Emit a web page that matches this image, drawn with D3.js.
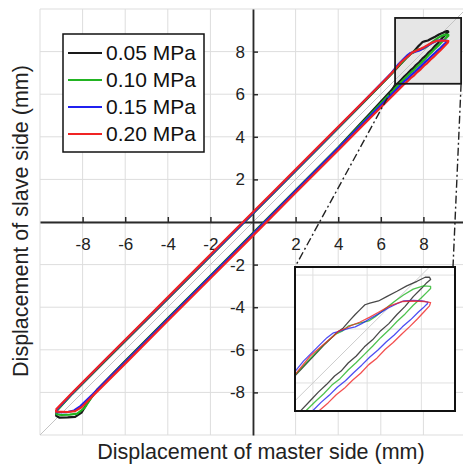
<!DOCTYPE html>
<html>
<head>
<meta charset="utf-8">
<script src="https://cdnjs.cloudflare.com/ajax/libs/d3/7.8.5/d3.min.js"></script>
<style>
  body { margin: 0; background: #fff; }
  svg { display: block; font-family: "Liberation Sans", Arial, Helvetica, sans-serif; }
  .grid line { stroke: #dddddd; stroke-width: 1; }
  .axis .domain { stroke: #2a2a2a; stroke-width: 1.8; }
  .axis .tick line { stroke: #2a2a2a; stroke-width: 1.5; }
  .axis .tick text { fill: #222; font-size: 17px; }
  .axis-title { fill: #222; font-size: 21.5px; }
  .legend-text { fill: #111; font-size: 21px; }
</style>
</head>
<body>
<div id="chart"></div>
<script>
// series names and colours
const pressures = ["0.05 MPa", "0.10 MPa", "0.15 MPa", "0.20 MPa"];
const colours = ["#1a1a1a", "#22b422", "#2020f0", "#f02424"];

// tick values of both axes, grid every 2 mm
const tickValues = [-8, -6, -4, -2, 2, 4, 6, 8];
const gridValues = [-10, -8, -6, -4, -2, 0, 2, 4, 6, 8, 10];
const insetGrid = [7, 8, 9];

// hysteresis loops [master, slave] in mm
const loop005 = [
  [-9.22, -8.85], [-9.24, -9.1], [-9.1, -9.18], [-8.7, -9.17], [-8.35, -9.15], [-8.05, -8.95],
  [-7.75, -8.45], [-7.3, -7.85], [-6, -6.53], [-4, -4.52], [-2, -2.52], [0, -0.52], [2, 1.49],
  [4, 3.5], [5.5, 5.1], [6.3, 5.98], [6.79, 6.5], [6.95, 6.67], [7.1, 6.83], [7.25, 6.97],
  [7.4, 7.13], [7.52, 7.22], [7.65, 7.37], [7.8, 7.5], [7.95, 7.67], [8.1, 7.8], [8.25, 7.97],
  [8.4, 8.1], [8.55, 8.27], [8.7, 8.42], [8.85, 8.6], [9.0, 8.75], [9.1, 8.86], [9.17, 8.92],
  [9.15, 8.96], [9.07, 8.96], [8.92, 8.885], [8.73, 8.8], [8.55, 8.7], [8.36, 8.6], [8.21, 8.52],
  [8.05, 8.48], [7.96, 8.45], [7.87, 8.36], [7.78, 8.27], [7.68, 8.16], [7.56, 8.02], [7.44, 7.93],
  [7.2, 7.7], [6.9, 7.38], [6.5, 6.95], [5, 5.42], [3, 3.4], [1, 1.4], [-1, -0.6], [-3, -2.6],
  [-5, -4.6], [-7, -6.58], [-8.5, -8.08], [-9.22, -8.85]
];
const loop010 = [
  [-9.2, -8.85], [-9.22, -9.02], [-9.0, -9.06], [-8.6, -9.04], [-8.25, -9.0], [-7.9, -8.72],
  [-7.5, -8.1], [-6, -6.55], [-4, -4.54], [-2, -2.54], [0, -0.54], [2, 1.47], [4, 3.48],
  [5.5, 5.04], [6.4, 5.98], [6.886, 6.5], [7.05, 6.66], [7.2, 6.8], [7.35, 6.96], [7.5, 7.08],
  [7.65, 7.24], [7.8, 7.38], [7.95, 7.53], [8.1, 7.68], [8.25, 7.84], [8.4, 7.98], [8.55, 8.14],
  [8.7, 8.28], [8.85, 8.44], [9.0, 8.58], [9.1, 8.68], [9.17, 8.75], [9.17, 8.79], [9.04, 8.8],
  [8.85, 8.74], [8.67, 8.63], [8.49, 8.5], [8.3, 8.35], [8.15, 8.23], [8.03, 8.15], [7.9, 8.12],
  [7.78, 8.09], [7.66, 8.06], [7.54, 7.96], [7.41, 7.9], [7.2, 7.71], [6.9, 7.4], [6.5, 6.96],
  [5, 5.43], [3, 3.42], [1, 1.42], [-1, -0.58], [-3, -2.58], [-5, -4.57], [-7, -6.56],
  [-8.5, -8.07], [-9.2, -8.85]
];
const loop015 = [
  [-9.22, -8.82], [-9.2, -8.93], [-8.75, -8.93], [-8.4, -8.85], [-8.1, -8.64], [-7.5, -8.07],
  [-6, -6.57], [-4, -4.57], [-2, -2.56], [0, -0.56], [2, 1.45], [4, 3.46], [5.5, 4.97],
  [6.5, 5.98], [7.01, 6.5], [7.15, 6.64], [7.3, 6.77], [7.45, 6.92], [7.6, 7.04], [7.75, 7.19],
  [7.9, 7.33], [8.05, 7.48], [8.2, 7.61], [8.35, 7.76], [8.5, 7.89], [8.65, 8.04], [8.8, 8.17],
  [8.95, 8.32], [9.05, 8.41], [9.11, 8.47], [9.12, 8.5], [9.01, 8.52], [8.85, 8.53], [8.67, 8.52],
  [8.55, 8.47], [8.39, 8.39], [8.21, 8.28], [8.05, 8.19], [7.9, 8.1], [7.78, 8.04], [7.66, 8.01],
  [7.5, 7.96], [7.38, 7.93], [7.26, 7.84], [7.07, 7.65], [6.83, 7.41], [6.5, 7.0], [5, 5.46],
  [3, 3.44], [1, 1.43], [-1, -0.57], [-3, -2.56], [-5, -4.55], [-7, -6.54], [-8.5, -8.05],
  [-9.22, -8.82]
];
const loop020 = [
  [-9.25, -8.8], [-9.24, -8.9], [-8.7, -8.92], [-8.35, -8.88], [-8.05, -8.7], [-7.5, -8.14],
  [-6, -6.65], [-4, -4.64], [-2, -2.64], [0, -0.64], [2, 1.37], [4, 3.37], [5.5, 4.88],
  [6.6, 5.97], [7.13, 6.5], [7.28, 6.63], [7.43, 6.78], [7.58, 6.9], [7.73, 7.05], [7.88, 7.18],
  [8.03, 7.34], [8.18, 7.46], [8.33, 7.62], [8.48, 7.75], [8.63, 7.9], [8.78, 8.04], [8.93, 8.19],
  [9.05, 8.32], [9.15, 8.43], [9.17, 8.49], [9.07, 8.51], [8.85, 8.52], [8.64, 8.51], [8.42, 8.43],
  [8.21, 8.31], [8.05, 8.22], [7.87, 8.13], [7.72, 8.07], [7.6, 8.01], [7.47, 7.96], [7.38, 7.87],
  [7.19, 7.71], [6.95, 7.5], [6.7, 7.19], [6.3, 6.77], [5, 5.47], [3, 3.47], [1, 1.47],
  [-1, -0.53], [-3, -2.53], [-5, -4.53], [-7, -6.53], [-8.5, -8.03], [-9.25, -8.8]
];
const loops = [loop005, loop010, loop015, loop020];

// region magnified in the inset (data units)
const zoomX = [6.67, 9.77];
const zoomY = [6.49, 9.58];
const insetX = [6.67, 9.62];
const insetY = [6.48, 9.15];

const config = {
  width: 463,
  height: 465,
  plot: { left: 40, right: 466, top: 9, bottom: 435 },
  inset: { left: 295, right: 455, top: 267, bottom: 411 },
  legend: { x: 63, y: 34, w: 141, h: 118, row: 27 }
};

const svg = d3.select("#chart").append("svg")
  .attr("width", config.width)
  .attr("height", config.height);

const x = d3.scaleLinear().domain([-10, 10]).range([config.plot.left, config.plot.right]);
const y = d3.scaleLinear().domain([-10, 10]).range([config.plot.bottom, config.plot.top]);

// grid
const grid = svg.append("g").attr("class", "grid");
grid.selectAll(".gx").data(gridValues).join("line")
  .attr("class", "gx")
  .attr("x1", d => x(d)).attr("x2", d => x(d))
  .attr("y1", y(-10)).attr("y2", y(10));
grid.selectAll(".gy").data(gridValues).join("line")
  .attr("class", "gy")
  .attr("y1", d => y(d)).attr("y2", d => y(d))
  .attr("x1", x(-10)).attr("x2", x(10));

// shaded zoom region
svg.append("rect")
  .attr("x", x(zoomX[0]))
  .attr("y", y(zoomY[1]))
  .attr("width", x(zoomX[1]) - x(zoomX[0]))
  .attr("height", y(zoomY[0]) - y(zoomY[1]))
  .attr("fill", "#e6e6e6");

// y = x reference
svg.append("line")
  .attr("x1", x(-10)).attr("y1", y(-10))
  .attr("x2", x(10)).attr("y2", y(10))
  .attr("stroke", "#c4c4c4").attr("stroke-width", 1);

// axes through the origin
const xAxis = d3.axisBottom(x).tickValues(tickValues)
  .tickSize(-5).tickSizeOuter(0).tickPadding(16).tickFormat(d => d);
const yAxis = d3.axisLeft(y).tickValues(tickValues)
  .tickSize(-5).tickSizeOuter(0).tickPadding(8).tickFormat(d => d);

svg.append("g").attr("class", "axis")
  .attr("transform", `translate(0,${y(0)})`)
  .call(xAxis)
  .attr("font-size", null).attr("font-family", null);
svg.append("g").attr("class", "axis")
  .attr("transform", `translate(${x(0)},0)`)
  .call(yAxis)
  .attr("font-size", null).attr("font-family", null);

// loops
const line = d3.line().x(d => x(d[0])).y(d => y(d[1]));
svg.append("g").selectAll("path").data(loops).join("path")
  .attr("d", line)
  .attr("fill", "none")
  .attr("stroke", (d, i) => colours[i])
  .attr("stroke-width", 2.2)
  .attr("stroke-linejoin", "round");

// border of zoom region
svg.append("rect")
  .attr("x", x(zoomX[0]))
  .attr("y", y(zoomY[1]))
  .attr("width", x(zoomX[1]) - x(zoomX[0]))
  .attr("height", y(zoomY[0]) - y(zoomY[1]))
  .attr("fill", "none")
  .attr("stroke", "#1a1a1a")
  .attr("stroke-width", 1.8);

// axis titles
svg.append("text")
  .attr("class", "axis-title")
  .attr("x", 261).attr("y", 459)
  .attr("text-anchor", "middle")
  .text("Displacement of master side (mm)");
svg.append("text")
  .attr("class", "axis-title")
  .attr("transform", "translate(28,221) rotate(-90)")
  .attr("text-anchor", "middle")
  .text("Displacement of slave side (mm)");

// legend
const lg = config.legend;
const legend = svg.append("g");
legend.append("rect")
  .attr("x", lg.x).attr("y", lg.y)
  .attr("width", lg.w).attr("height", lg.h)
  .attr("fill", "#fff").attr("stroke", "#111").attr("stroke-width", 1.5);
legend.selectAll("line").data(pressures).join("line")
  .attr("x1", lg.x + 5).attr("x2", lg.x + 39)
  .attr("y1", (d, i) => lg.y + 19 + i * lg.row)
  .attr("y2", (d, i) => lg.y + 19 + i * lg.row)
  .attr("stroke", (d, i) => colours[i])
  .attr("stroke-width", 2);
legend.selectAll("text").data(pressures).join("text")
  .attr("class", "legend-text")
  .attr("x", lg.x + 43)
  .attr("y", (d, i) => lg.y + 19 + i * lg.row)
  .attr("dy", "0.35em")
  .text(d => d);

// connector lines from zoom region to inset
const ins = config.inset;
const connectors = [
  [[x(zoomX[0]), y(zoomY[0])], [ins.left, ins.top]],
  [[x(zoomX[1]), y(zoomY[0])], [ins.right - 2, ins.top]]
];
svg.selectAll(".connector").data(connectors).join("line")
  .attr("class", "connector")
  .attr("x1", d => d[0][0]).attr("y1", d => d[0][1])
  .attr("x2", d => d[1][0]).attr("y2", d => d[1][1])
  .attr("stroke", "#222")
  .attr("stroke-width", 1.4)
  .attr("stroke-dasharray", "8,3,2,3");

// inset
const xi = d3.scaleLinear().domain(insetX).range([ins.left, ins.right]);
const yi = d3.scaleLinear().domain(insetY).range([ins.bottom, ins.top]);

svg.append("clipPath").attr("id", "inset-clip")
  .append("rect")
  .attr("x", ins.left).attr("y", ins.top)
  .attr("width", ins.right - ins.left).attr("height", ins.bottom - ins.top);

const inset = svg.append("g");
inset.append("rect")
  .attr("x", ins.left).attr("y", ins.top)
  .attr("width", ins.right - ins.left).attr("height", ins.bottom - ins.top)
  .attr("fill", "#fff");

const insetBody = inset.append("g").attr("clip-path", "url(#inset-clip)");
insetBody.selectAll(".ix").data(insetGrid).join("line")
  .attr("class", "ix")
  .attr("x1", d => xi(d)).attr("x2", d => xi(d))
  .attr("y1", ins.top).attr("y2", ins.bottom)
  .attr("stroke", "#e0e0e0");
insetBody.selectAll(".iy").data(insetGrid).join("line")
  .attr("class", "iy")
  .attr("y1", d => yi(d)).attr("y2", d => yi(d))
  .attr("x1", ins.left).attr("x2", ins.right)
  .attr("stroke", "#e0e0e0");
insetBody.append("line")
  .attr("x1", xi(6)).attr("y1", yi(6))
  .attr("x2", xi(10)).attr("y2", yi(10))
  .attr("stroke", "#cccccc");

const insetLine = d3.line().x(d => xi(d[0])).y(d => yi(d[1]));
insetBody.selectAll(".iloop").data(loops).join("path")
  .attr("class", "iloop")
  .attr("d", insetLine)
  .attr("fill", "none")
  .attr("stroke", (d, i) => colours[i])
  .attr("stroke-opacity", 0.8)
  .attr("stroke-width", 1.3)
  .attr("stroke-linejoin", "round");

inset.append("rect")
  .attr("x", ins.left).attr("y", ins.top)
  .attr("width", ins.right - ins.left).attr("height", ins.bottom - ins.top)
  .attr("fill", "none")
  .attr("stroke", "#111")
  .attr("stroke-width", 2);
</script>
</body>
</html>
